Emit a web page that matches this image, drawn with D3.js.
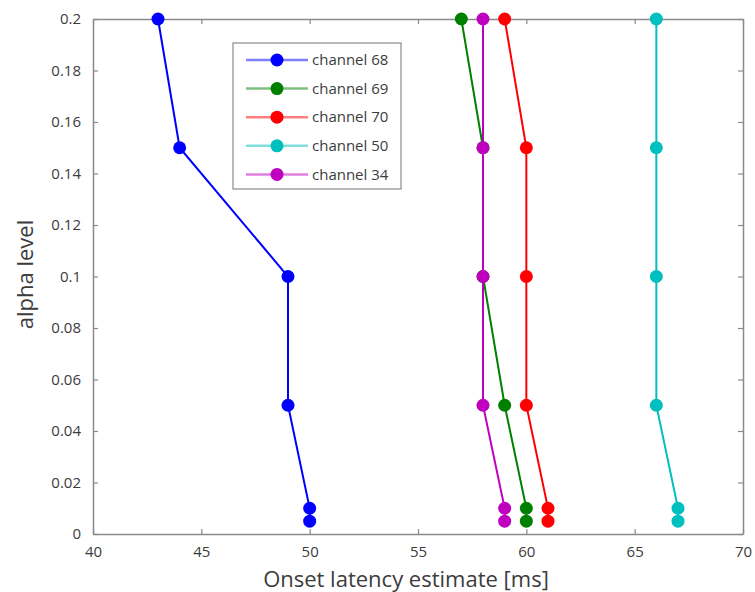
<!DOCTYPE html>
<html>
<head>
<meta charset="utf-8">
<script src="https://cdn.jsdelivr.net/npm/d3@7"></script>
<style>
  body { margin: 0; background: #fff; }
  text { font-family: "Open Sans", "DejaVu Sans", sans-serif; }
</style>
</head>
<body>
<div id="chart"></div>
<script>
const alphaLevels = [0.2, 0.15, 0.1, 0.05, 0.01, 0.005];
const ch68 = [43, 44, 49, 49, 50, 50];
const ch69 = [57, 58, 58, 59, 60, 60];
const ch70 = [59, 60, 60, 60, 61, 61];
const ch50 = [66, 66, 66, 66, 67, 67];
const ch34 = [58, 58, 58, 58, 59, 59];
const seriesNames = ["channel 68", "channel 69", "channel 70", "channel 50", "channel 34"];
const seriesColors = ["#0000ff", "#008000", "#ff0000", "#00bfbf", "#bf00bf"];
const xTicks = [40, 45, 50, 55, 60, 65, 70];
const yTicks = [0, 0.02, 0.04, 0.06, 0.08, 0.1, 0.12, 0.14, 0.16, 0.18, 0.2];

const W = 755, H = 592;
const margin = { top: 19, right: 12, bottom: 58, left: 93 };
const width = W - margin.left - margin.right;
const height = H - margin.top - margin.bottom;

const svg = d3.select("#chart").append("svg")
  .attr("width", W).attr("height", H)
  .append("g")
  .attr("transform", `translate(${margin.left},${margin.top})`);

const x = d3.scaleLinear().domain([40, 70]).range([0, width]);
const y = d3.scaleLinear().domain([0, 0.2]).range([height, 0]);

const axisColor = "#8a8a8a";
const labelColor = "#3c3c3c";
const tickLen = 5;

// box-style axes with inward ticks
const styleAxis = g => {
  g.select(".domain").attr("stroke", axisColor).attr("stroke-width", 1.5);
  g.selectAll(".tick line").attr("stroke", axisColor).attr("stroke-width", 1.2);
  g.selectAll(".tick text").attr("fill", labelColor).style("font-size", "15px");
};

svg.append("g")
  .attr("transform", `translate(0,${height})`)
  .call(d3.axisBottom(x).tickValues(xTicks).tickSizeInner(-tickLen).tickSizeOuter(0).tickPadding(12))
  .call(styleAxis);

svg.append("g")
  .call(d3.axisTop(x).tickValues(xTicks).tickSizeInner(-tickLen).tickSizeOuter(0).tickFormat(""))
  .call(styleAxis);

svg.append("g")
  .call(d3.axisLeft(y).tickValues(yTicks).tickSizeInner(-tickLen).tickSizeOuter(0).tickPadding(12).tickFormat(d3.format("~g")))
  .call(styleAxis);

svg.append("g")
  .attr("transform", `translate(${width},0)`)
  .call(d3.axisRight(y).tickValues(yTicks).tickSizeInner(-tickLen).tickSizeOuter(0).tickFormat(""))
  .call(styleAxis);

// axis labels
svg.append("text")
  .attr("x", width / 2 - 12)
  .attr("y", height + 53)
  .attr("text-anchor", "middle")
  .attr("fill", labelColor)
  .style("font-size", "22px")
  .text("Onset latency estimate [ms]");

svg.append("text")
  .attr("transform", "rotate(-90)")
  .attr("x", -height / 2 + 2)
  .attr("y", -60)
  .attr("text-anchor", "middle")
  .attr("fill", labelColor)
  .style("font-size", "22px")
  .text("alpha level");

const allSeries = [ch68, ch69, ch70, ch50, ch34].map((vals, i) => ({
  name: seriesNames[i],
  color: seriesColors[i],
  values: vals.map((v, j) => ({ x: v, y: alphaLevels[j] }))
}));

const line = d3.line().x(d => x(d.x)).y(d => y(d.y));

allSeries.forEach(s => {
  svg.append("path")
    .datum(s.values)
    .attr("fill", "none")
    .attr("stroke", s.color)
    .attr("stroke-width", 2)
    .attr("d", line);

  svg.selectAll(null)
    .data(s.values)
    .enter()
    .append("circle")
    .attr("cx", d => x(d.x))
    .attr("cy", d => y(d.y))
    .attr("r", 6.5)
    .attr("fill", s.color);
});

// legend
const legend = svg.append("g").attr("transform", `translate(${233 - margin.left},${43 - margin.top})`);
legend.append("rect")
  .attr("width", 168).attr("height", 146)
  .attr("fill", "#fff")
  .attr("stroke", axisColor)
  .attr("stroke-width", 1.2);

allSeries.forEach((s, i) => {
  const ly = 17 + i * 28.6;
  legend.append("line")
    .attr("x1", 13).attr("x2", 75)
    .attr("y1", ly).attr("y2", ly)
    .attr("stroke", s.color)
    .attr("stroke-opacity", 0.5)
    .attr("stroke-width", 2.5);
  legend.append("circle")
    .attr("cx", 44).attr("cy", ly).attr("r", 6.5)
    .attr("fill", s.color);
  legend.append("text")
    .attr("x", 79).attr("y", ly)
    .attr("dy", "0.35em")
    .attr("fill", labelColor)
    .style("font-size", "15px")
    .text(s.name);
});
</script>
</body>
</html>
